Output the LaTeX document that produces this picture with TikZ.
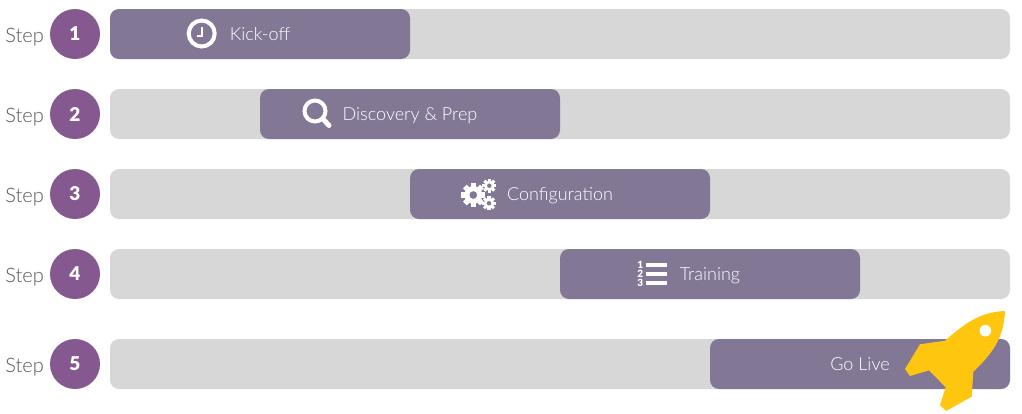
\documentclass[tikz,border=0pt]{standalone}
\usepackage{fontspec}
\setmainfont{Lato}[UprightFont=* Light,BoldFont=* Black]
\usetikzlibrary{positioning}

\definecolor{barGray}{HTML}{D7D7D7}
\definecolor{taskPurple}{HTML}{827896}
\definecolor{stepPurple}{HTML}{85588F}
\definecolor{rocketYellow}{HTML}{FEC60F}
\definecolor{labelGray}{HTML}{555555}

\tikzset{
    barbox/.style={fill=barGray,rounded corners=9pt,minimum width=900pt,minimum height=50pt,inner sep=0pt},
    taskbox/.style={fill=taskPurple,rounded corners=9pt,minimum width=300pt,minimum height=50pt,inner sep=0pt,
        text=white,text height=12pt,text depth=0pt,font=\fontsize{18}{20}\selectfont},
    numdisc/.style={circle,fill=stepPurple,minimum size=50pt,inner sep=0pt,text=white,font=\fontsize{19}{20}\selectfont\bfseries},
    steplabel/.style={anchor=east,inner sep=0pt,text=labelGray,font=\fontsize{20}{20}\selectfont},
    gearicon/.pic={
        \foreach \a in {0,45,...,315}{
            \fill[white,rotate=\a] (-0.22,0) rectangle (0.22,1);
        }
        \fill[white] (0,0) circle (0.74);
        \fill[taskPurple] (0,0) circle (0.32);
    }
}

\begin{document}
\begin{tikzpicture}[x=1pt,y=-1pt]
    \useasboundingbox (0,0) rectangle (1022,413);

    %one row per step: y position, left end of the task, number, label
    \foreach \y/\x/\n/\lab in {34/260/1/Kick-off,114/410/2/{Discovery \& Prep},194/560/3/Configuration,274/710/4/Training,364/860/5/Go Live}{
        \node[barbox] (bar\n) at (560,\y) {};
        \node[taskbox] (task\n) at (\x,\y) {\lab};
        \node[numdisc] (num\n) at (75,\y) {\n};
        \node[steplabel] (step\n) at (44,\y+3.5) {Step};
    }

    %clock
    \draw[white,line width=4pt] (201.7,33.5) circle (13);
    \draw[white,line width=2pt] (201.7,26.5) -- (201.7,35.7) -- (196.5,35.7);

    %magnifier
    \draw[white,line width=4pt] (315,111) circle (10.5);
    \draw[white,line width=5pt,line cap=round] (323,119) -- (329,125.5);

    %gears
    \pic[scale=12] at (473.3,195) {gearicon};
    \pic[scale=7] at (489.3,185.7) {gearicon};
    \pic[scale=7] at (489,203.3) {gearicon};

    %numbered list
    \foreach \n/\y in {1/265,2/273.5,3/282.5}{
        \fill[white] (646,\y-2) rectangle (667,\y+2);
        \node[inner sep=0pt,text=white,font=\fontsize{10}{10}\selectfont\bfseries] (digit\n) at (640.3,\y) {\n};
    }

    %rocket
    \fill[rocketYellow] (1005,311) .. controls (978,312) and (962,326) .. (945,340.7)
        -- (920,344.3) -- (905,369) -- (910,376) -- (929,370.3) -- (945.7,387.3)
        -- (940,405) -- (946,411) -- (971.7,396.7) -- (973.3,371.7)
        .. controls (992,354) and (1004,338) .. cycle;
    \fill[white] (985.3,330.7) circle (5.8);
\end{tikzpicture}
\end{document}
